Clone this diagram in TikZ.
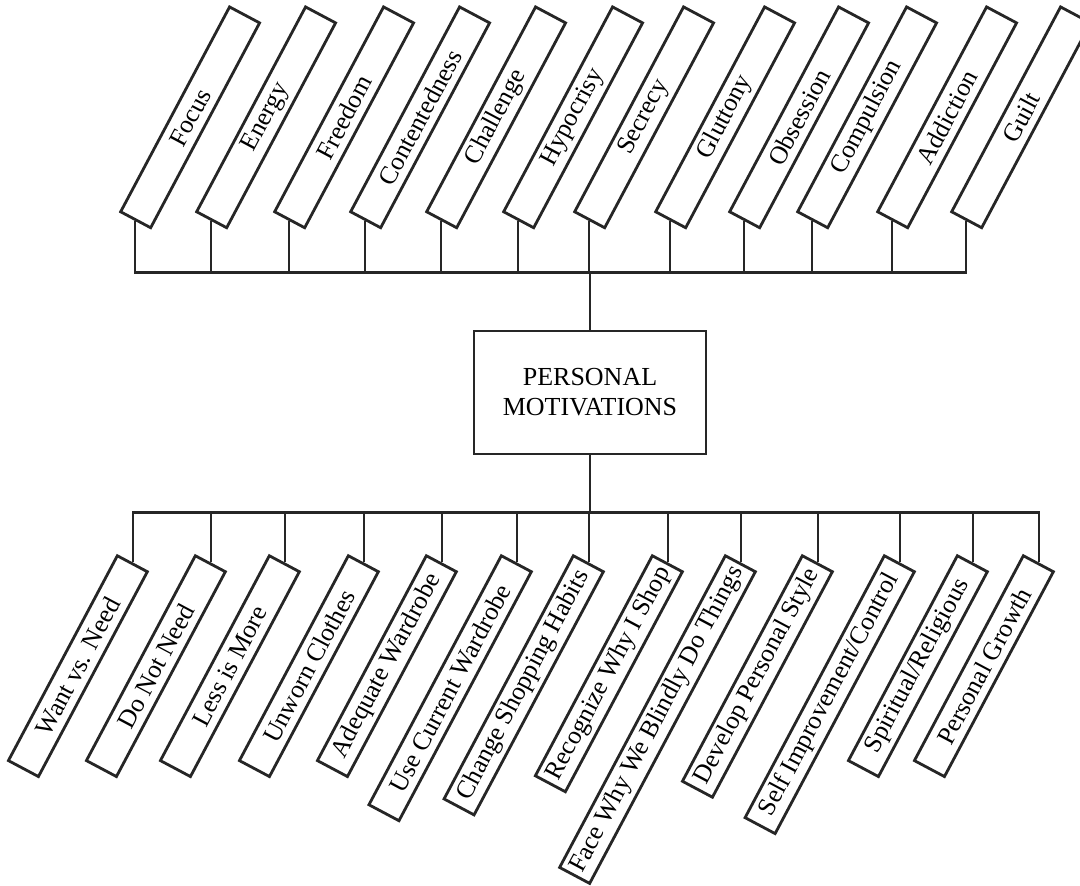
\documentclass[tikz,border=0pt]{standalone}
\usepackage{fontspec}
\setmainfont{Liberation Serif}
\usetikzlibrary{positioning}

\begin{document}
\begin{tikzpicture}[
    x=0.5pt, y=-0.5pt,
    every node/.style={font=\fontsize{12.8}{15}\selectfont},
    tag/.style={draw=black!85, fill=white, rectangle, rotate=62, line width=1.4pt, minimum width=116pt, minimum height=17pt, inner sep=0pt},
    hub/.style={draw=black!85, fill=white, rectangle, line width=1.4pt, minimum width=116pt, minimum height=61.5pt, align=center, font=\fontsize{13}{15}\selectfont},
    link/.style={draw=black!85, line width=1.4pt}
]
\useasboundingbox (0,0) rectangle (1080,886);

\node (hub) [hub] at (590,392.5) {PERSONAL\\MOTIVATIONS};
\coordinate [above=28.5pt of hub] (topbus);
\coordinate [below=28.5pt of hub] (lowbus);

% upper row
\foreach \x/\lbl [count=\i] in {135/Focus, 211/Energy, 289/Freedom, 365/Contentedness, 441/Challenge, 518/Hypocrisy, 589/Secrecy, 670/Gluttony, 744/Obsession, 812/Compulsion, 892/Addiction, 966/Guilt}
    \node (top\i) [tag, anchor=west] at (\x,221) {\lbl};

% lower row
\foreach \x/\len/\lbl [count=\i] in {133/116/Want vs. Need, 211/116/Do Not Need, 285/116/Less is More, 364/116/Unworn Clothes, 442/116/Adequate Wardrobe, 517/141/Use Current Wardrobe, 589/137.7/Change Shopping Habits, 668/124.6/Recognize Why I Shop, 741/176.5/Face Why We Blindly Do Things, 818/127.7/Develop Personal Style, 900/148.3/{Self Improvement/Control}, 973/116/{Spiritual/Religious}, 1039/116/Personal Growth}
    \node (low\i) [tag, anchor=east, minimum width=\len pt] at (\x,562.5) {\lbl};

\draw [link] (top1.west) -- (top1.west |- topbus) -- (top12.west |- topbus) -- (top12.west);
\foreach \i in {2,...,11}
    \draw [link] (top\i.west) -- (top\i.west |- topbus);
\draw [link] (hub) -- (topbus);

\draw [link] (low1.east) -- (low1.east |- lowbus) -- (low13.east |- lowbus) -- (low13.east);
\foreach \i in {2,...,12}
    \draw [link] (low\i.east) -- (low\i.east |- lowbus);
\draw [link] (hub) -- (lowbus);

\end{tikzpicture}
\end{document}
